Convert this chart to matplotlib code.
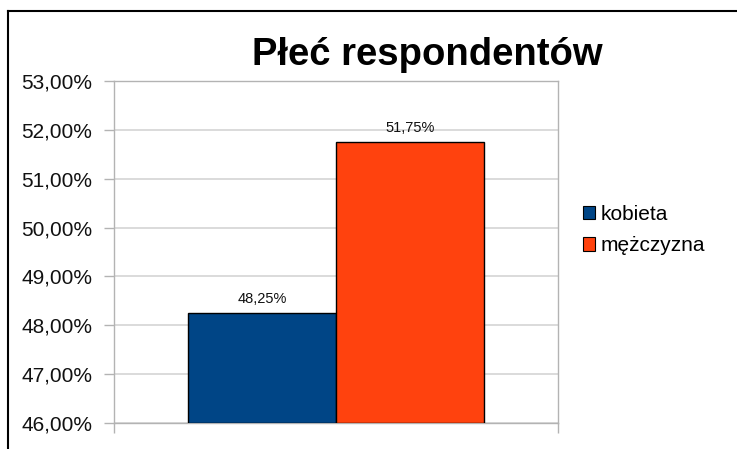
import matplotlib
matplotlib.use("Agg")
import matplotlib.pyplot as plt
from matplotlib.lines import Line2D
from matplotlib.patches import Patch
from matplotlib.ticker import FixedLocator, FuncFormatter

plt.rcParams['font.family'] = ['Liberation Sans', 'DejaVu Sans']

categories = ["kobieta", "mężczyzna"]
values = [48.25, 51.75]
colors = ["#004586", "#ff420e"]
yticks = [46, 47, 48, 49, 50, 51, 52, 53]
title = "Płeć respondentów"

W, H = 737, 449
fig = plt.figure(figsize=(W / 100, H / 100), dpi=100)
# plot area in pixels: left 114, right 558, top 81, bottom 423
ax = fig.add_axes([114 / W, 1 - 423 / H, (558 - 114) / W, (423 - 81) / H])

bw = 1 / 3
positions = [-bw / 2, bw / 2]
for x, v, c, lab in zip(positions, values, colors, categories):
    ax.bar(x, v - 46, bottom=46, width=bw, color=c, edgecolor="black",
           linewidth=1.0, label=lab, zorder=3)
    ax.text(x, v + 0.15, f"{v:.2f}%".replace(".", ","), ha="center",
            va="bottom", fontsize=10.5, color="#111111", zorder=4)

ax.set_xlim(-0.5, 0.5)
ax.set_ylim(46, 53)
ax.yaxis.set_major_locator(FixedLocator(yticks))
ax.yaxis.set_major_formatter(FuncFormatter(lambda v, p: f"{v:.2f}%".replace(".", ",")))
ax.set_xticks([-0.5, 0.5])
ax.set_xticklabels([])
ax.tick_params(axis="x", length=7.5, color="#b3b3b3", width=1)
ax.tick_params(axis="y", length=7.5, color="#b3b3b3", width=1, labelsize=15,
               pad=8, labelcolor="#111111")
ax.grid(axis="y", color="#d4d4d4", linewidth=1.2, zorder=0)
for s in ax.spines.values():
    s.set_color("#b3b3b3")
    s.set_linewidth(1)

fig.text(427 / W, 1 - 55 / H, title, ha="center", va="center",
         fontsize=27.5, fontweight="bold", color="black")

handles = [Patch(facecolor=c, edgecolor="black", linewidth=0.8) for c in colors]
fig.legend(handles, categories, loc="center left",
           bbox_to_anchor=(564 / W, 1 - 230 / H), frameon=False,
           fontsize=15, handlelength=0.6, handleheight=0.6,
           handletextpad=0.25, labelspacing=0.6)

# outer frame (left and top border)
fig.add_artist(Line2D([7.5 / W, 7.5 / W], [0, 1 - 11 / H], color="black",
                      linewidth=1.5, transform=fig.transFigure))
fig.add_artist(Line2D([7.5 / W, 1], [1 - 11 / H, 1 - 11 / H], color="black",
                      linewidth=1.5, transform=fig.transFigure))

fig.savefig("out.png", dpi=100, facecolor="white")
